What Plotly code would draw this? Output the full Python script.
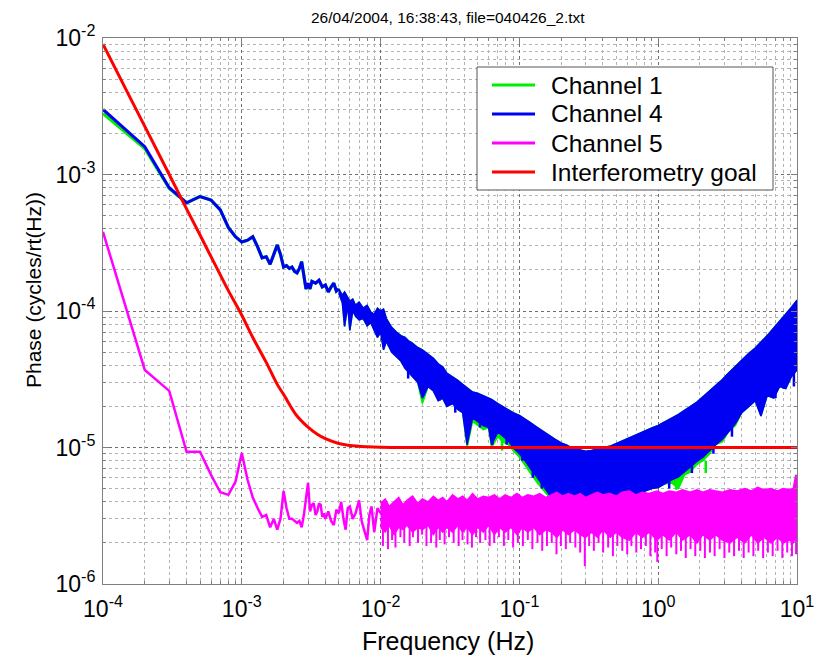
import plotly.graph_objects as go

# ---------------- data ----------------
TITLE = "26/04/2004, 16:38:43, file=040426_2.txt"
X_TITLE = "Frequency (Hz)"
Y_TITLE = "Phase (cycles/rt(Hz))"
SERIES_NAMES = ["Channel 1", "Channel 4", "Channel 5", "Interferometry goal"]

X_TICKS = [1e-4, 1e-3, 1e-2, 1e-1, 1e0, 1e1]
X_TICK_TEXT = ["10<sup>-4</sup>", "10<sup>-3</sup>", "10<sup>-2</sup>",
               "10<sup>-1</sup>", "10<sup>0</sup>", "10<sup>1</sup>"]
Y_TICKS = [1e-6, 1e-5, 1e-4, 1e-3, 1e-2]
Y_TICK_TEXT = ["10<sup>-6</sup>", "10<sup>-5</sup>", "10<sup>-4</sup>",
               "10<sup>-3</sup>", "10<sup>-2</sup>"]

# low-frequency part of channels 1 and 4 (single line)
ch_low_f = [1.0e-4, 2.0e-4, 3.0e-4, 4.0e-4, 5.0e-4, 6.0e-4, 7.0e-4, 8.0e-4, 9.0e-4,
            1.0e-3, 1.1e-3, 1.2e-3, 1.3e-3, 1.4e-3, 1.5e-3, 1.6e-3, 1.7e-3, 1.8e-3,
            1.9e-3, 2.0e-3, 2.1e-3, 2.2e-3, 2.3e-3, 2.4e-3, 2.5e-3, 2.6e-3, 2.7e-3,
            2.8e-3, 2.9e-3, 3.0e-3, 3.1e-3, 3.2e-3, 3.4e-3, 3.6e-3, 3.8e-3, 4.0e-3,
            4.2e-3, 4.4e-3, 4.6e-3, 4.8e-3, 5.0e-3]
ch4_low = [3.0e-3, 1.6e-3, 8.0e-4, 6.2e-4, 6.9e-4, 6.5e-4, 5.5e-4, 4.1e-4, 3.5e-4,
           3.2e-4, 3.3e-4, 3.5e-4, 2.95e-4, 2.45e-4, 2.5e-4, 2.2e-4, 2.6e-4, 3.05e-4,
           2.6e-4, 2.1e-4, 2.15e-4, 2.05e-4, 2.1e-4, 1.95e-4, 1.9e-4, 2.05e-4, 2.3e-4,
           1.85e-4, 1.45e-4, 1.6e-4, 1.45e-4, 1.65e-4, 1.6e-4, 1.68e-4, 1.5e-4, 1.55e-4,
           1.38e-4, 1.5e-4, 1.6e-4, 1.4e-4, 1.45e-4]
ch1_low = [2.8e-3, 1.55e-3, 7.9e-4, 6.2e-4, 6.9e-4, 6.5e-4, 5.5e-4, 4.1e-4, 3.5e-4,
           3.2e-4, 3.3e-4, 3.5e-4, 2.95e-4, 2.45e-4, 2.5e-4, 2.2e-4, 2.6e-4, 3.05e-4,
           2.6e-4, 2.1e-4, 2.15e-4, 2.05e-4, 2.1e-4, 1.95e-4, 1.9e-4, 2.05e-4, 2.3e-4,
           1.85e-4, 1.45e-4, 1.6e-4, 1.45e-4, 1.65e-4, 1.6e-4, 1.68e-4, 1.5e-4, 1.55e-4,
           1.38e-4, 1.5e-4, 1.6e-4, 1.4e-4, 1.45e-4]

# noisy part of channels 1 and 4: upper / lower envelope of the band
band_f = [5.0e-3, 5.3e-3, 5.5e-3, 5.8e-3, 6.0e-3, 6.3e-3, 6.6e-3, 7.0e-3, 7.5e-3, 8.0e-3,
          8.5e-3, 9.0e-3, 9.5e-3, 1.0e-2, 1.05e-2, 1.1e-2, 1.2e-2, 1.3e-2, 1.4e-2, 1.5e-2,
          1.6e-2, 1.7e-2, 1.85e-2, 2.0e-2, 2.2e-2, 2.4e-2, 2.6e-2, 2.8e-2, 3.0e-2, 3.3e-2,
          3.6e-2, 3.9e-2, 4.2e-2, 4.6e-2, 5.0e-2, 5.5e-2, 6.0e-2, 6.3e-2, 7.0e-2, 7.6e-2,
          8.3e-2, 9.0e-2, 0.10, 0.11, 0.12, 0.135, 0.15, 0.165, 0.18, 0.20,
          0.22, 0.24, 0.27, 0.30, 0.33, 0.37, 0.41, 0.46, 0.51, 0.57,
          0.64, 0.71, 0.80, 0.90, 1.0, 1.1, 1.25, 1.4, 1.55, 1.7,
          1.9, 2.1, 2.35, 2.6, 2.9, 3.2, 3.6, 4.0, 4.5, 5.0,
          5.5, 6.1, 6.8, 7.5, 8.3, 9.1, 10.0]
ch4_upper = [1.45e-4, 1.3e-4, 1.38e-4, 1.25e-4, 1.18e-4, 1.22e-4, 1.1e-4, 1.16e-4, 1.05e-4, 1.1e-4,
             9.8e-5, 9.5e-5, 1.05e-4, 1.0e-4, 1.03e-4, 8.8e-5, 7.6e-5, 7.0e-5, 6.6e-5, 6.4e-5,
             6.0e-5, 5.8e-5, 5.4e-5, 5.2e-5, 4.8e-5, 4.5e-5, 4.1e-5, 3.9e-5, 3.5e-5, 3.3e-5,
             3.1e-5, 2.9e-5, 2.75e-5, 2.55e-5, 2.5e-5, 2.4e-5, 2.3e-5, 2.25e-5, 2.1e-5, 2.0e-5,
             1.9e-5, 1.8e-5, 1.72e-5, 1.6e-5, 1.52e-5, 1.4e-5, 1.3e-5, 1.22e-5, 1.15e-5, 1.08e-5,
             1.04e-5, 9.9e-6, 9.6e-6, 9.4e-6, 9.5e-6, 9.7e-6, 1.0e-5, 1.03e-5, 1.08e-5, 1.14e-5,
             1.2e-5, 1.26e-5, 1.32e-5, 1.39e-5, 1.45e-5, 1.52e-5, 1.64e-5, 1.75e-5, 1.87e-5, 2.0e-5,
             2.15e-5, 2.35e-5, 2.6e-5, 2.85e-5, 3.15e-5, 3.5e-5, 3.95e-5, 4.35e-5, 4.9e-5, 5.35e-5,
             5.9e-5, 6.6e-5, 7.5e-5, 8.5e-5, 9.5e-5, 1.06e-4, 1.2e-4]
ch4_lower = [1.35e-4, 1.15e-4, 7.7e-5, 1.1e-4, 7.2e-5, 1.0e-4, 9.2e-5, 8.6e-5, 8.8e-5, 7.8e-5,
             8.2e-5, 7.2e-5, 6.4e-5, 7.0e-5, 5.2e-5, 6.0e-5, 5.0e-5, 4.6e-5, 4.3e-5, 3.8e-5,
             3.6e-5, 3.3e-5, 3.0e-5, 2.3e-5, 2.8e-5, 2.6e-5, 2.2e-5, 2.3e-5, 2.0e-5, 2.1e-5,
             1.9e-5, 1.8e-5, 1.05e-5, 1.65e-5, 1.55e-5, 1.45e-5, 1.4e-5, 1.05e-5, 1.3e-5, 1.2e-5,
             1.12e-5, 1.0e-5, 9.0e-6, 8.0e-6, 7.0e-6, 6.0e-6, 5.2e-6, 4.5e-6, 4.6e-6, 4.1e-6,
             4.5e-6, 4.2e-6, 4.0e-6, 4.4e-6, 4.2e-6, 4.3e-6, 4.1e-6, 4.4e-6, 4.3e-6, 4.5e-6,
             4.4e-6, 4.6e-6, 4.8e-6, 5.0e-6, 5.1e-6, 5.4e-6, 5.8e-6, 6.1e-6, 6.6e-6, 7.2e-6,
             7.9e-6, 8.5e-6, 9.5e-6, 1.05e-5, 1.15e-5, 1.3e-5, 1.5e-5, 1.8e-5, 2.0e-5, 2.2e-5,
             1.7e-5, 2.4e-5, 2.3e-5, 2.8e-5, 2.7e-5, 3.3e-5, 3.7e-5]
ch1_upper = ch4_upper
ch1_lower = [1.35e-4, 1.15e-4, 7.7e-5, 1.1e-4, 7.2e-5, 1.0e-4, 9.2e-5, 8.6e-5, 8.8e-5, 7.8e-5,
             8.2e-5, 7.2e-5, 6.4e-5, 7.0e-5, 5.2e-5, 6.0e-5, 5.0e-5, 4.6e-5, 4.3e-5, 3.8e-5,
             3.6e-5, 3.3e-5, 3.0e-5, 2.1e-5, 2.8e-5, 2.6e-5, 2.2e-5, 2.3e-5, 2.0e-5, 2.1e-5,
             1.9e-5, 1.8e-5, 1.0e-5, 1.55e-5, 1.45e-5, 1.35e-5, 1.4e-5, 1.0e-5, 1.2e-5, 1.1e-5,
             1.05e-5, 9.5e-6, 8.5e-6, 7.4e-6, 6.5e-6, 5.5e-6, 4.8e-6, 4.3e-6, 4.4e-6, 4.0e-6,
             4.5e-6, 4.2e-6, 4.0e-6, 4.4e-6, 4.2e-6, 4.3e-6, 4.1e-6, 4.4e-6, 4.3e-6, 4.5e-6,
             4.4e-6, 4.6e-6, 4.8e-6, 5.0e-6, 5.1e-6, 5.4e-6, 5.5e-6, 5.0e-6, 6.3e-6, 6.6e-6,
             7.5e-6, 8.0e-6, 9.0e-6, 1.05e-5, 1.1e-5, 1.3e-5, 1.45e-5, 1.8e-5, 2.0e-5, 2.2e-5,
             1.7e-5, 2.4e-5, 2.3e-5, 2.8e-5, 2.7e-5, 3.3e-5, 3.7e-5]

# single downward noise spikes below the band: frequency, bottom, top
ch4_spike_f = [0.0115, 0.0158, 0.0205, 0.0265, 0.0345, 0.052, 0.064, 0.081, 0.105, 0.125,
               0.145, 1.2, 1.75, 2.5, 3.4, 7.0, 8.0, 9.5]
ch4_spike_lo = [5.5e-5, 3.2e-5, 2.4e-5, 2.2e-5, 1.8e-5, 1.4e-5, 1.05e-5, 1.05e-5, 8.0e-6, 6.0e-6,
                5.0e-6, 5.0e-6, 6.5e-6, 9.0e-6, 1.2e-5, 2.3e-5, 2.7e-5, 2.8e-5]
ch4_spike_hi = [7.0e-5, 4.2e-5, 3.3e-5, 2.8e-5, 2.2e-5, 1.6e-5, 1.5e-5, 1.2e-5, 9.5e-6, 7.5e-6,
                6.0e-6, 6.0e-6, 7.5e-6, 1.05e-5, 1.45e-5, 2.8e-5, 3.2e-5, 3.6e-5]
ch1_spike_f = [0.075, 0.21, 1.35, 2.2]
ch1_spike_lo = [9.5e-6, 3.6e-6, 4.9e-6, 6.5e-6]
ch1_spike_hi = [1.2e-5, 4.4e-6, 6.0e-6, 8.0e-6]

# channel 5: low-frequency line, then noisy band
ch5_low_f = [1.0e-4, 2.0e-4, 3.0e-4, 4.0e-4, 5.0e-4, 6.0e-4, 7.0e-4, 8.0e-4, 9.0e-4, 1.0e-3,
             1.1e-3, 1.2e-3, 1.3e-3, 1.4e-3, 1.5e-3, 1.6e-3, 1.7e-3, 1.8e-3, 1.9e-3, 2.0e-3,
             2.1e-3, 2.2e-3, 2.3e-3, 2.4e-3, 2.5e-3, 2.6e-3, 2.7e-3, 2.8e-3, 2.9e-3, 3.0e-3,
             3.1e-3, 3.2e-3, 3.3e-3, 3.4e-3, 3.5e-3, 3.6e-3, 3.7e-3, 3.8e-3, 3.9e-3, 4.0e-3,
             4.2e-3, 4.4e-3, 4.6e-3, 4.8e-3, 5.0e-3, 5.2e-3, 5.4e-3, 5.6e-3, 5.8e-3, 6.0e-3,
             6.3e-3, 6.6e-3, 7.0e-3, 7.3e-3, 7.6e-3, 8.0e-3, 8.3e-3, 8.6e-3, 9.0e-3, 9.5e-3,
             1.0e-2]
ch5_low = [3.8e-4, 3.7e-5, 2.6e-5, 9.3e-6, 9.3e-6, 6.3e-6, 4.7e-6, 4.5e-6, 5.6e-6, 9.1e-6,
           5.8e-6, 4.3e-6, 3.6e-6, 3.1e-6, 3.2e-6, 2.6e-6, 3.0e-6, 2.5e-6, 3.0e-6, 4.8e-6,
           3.6e-6, 3.0e-6, 3.0e-6, 2.9e-6, 2.8e-6, 2.9e-6, 2.6e-6, 3.2e-6, 4.4e-6, 5.5e-6,
           3.4e-6, 3.8e-6, 3.9e-6, 3.2e-6, 3.4e-6, 3.9e-6, 3.8e-6, 3.1e-6, 3.3e-6, 3.0e-6,
           3.4e-6, 2.9e-6, 2.7e-6, 3.5e-6, 3.3e-6, 4.0e-6, 3.0e-6, 2.5e-6, 3.6e-6, 3.7e-6,
           3.0e-6, 3.3e-6, 4.1e-6, 2.9e-6, 2.5e-6, 2.1e-6, 3.2e-6, 3.7e-6, 2.4e-6, 3.6e-6,
           3.3e-6]
ch5_band_f = [1.0e-2, 1.08e-2, 1.15e-2, 1.25e-2, 1.35e-2, 1.45e-2, 1.55e-2, 1.7e-2, 1.85e-2, 2.0e-2,
              2.2e-2, 2.4e-2, 2.6e-2, 2.8e-2, 3.0e-2, 3.3e-2, 3.6e-2, 3.9e-2, 4.2e-2, 4.6e-2,
              5.0e-2, 5.5e-2, 6.0e-2, 6.6e-2, 7.2e-2, 7.9e-2, 8.7e-2, 9.6e-2, 0.105, 0.115,
              0.127, 0.14, 0.155, 0.17, 0.186, 0.205, 0.225, 0.25, 0.275, 0.30,
              0.33, 0.365, 0.40, 0.45, 0.50, 0.55, 0.62, 0.69, 0.77, 0.86,
              0.98, 1.08, 1.2, 1.35, 1.5, 1.7, 1.9, 2.1, 2.35, 2.6,
              2.9, 3.3, 3.7, 4.2, 4.7, 5.2, 5.8, 6.5, 7.2, 8.0,
              8.8, 9.4, 9.8, 10.0]
ch5_upper = [3.9e-6, 4.2e-6, 3.7e-6, 4.0e-6, 4.3e-6, 3.8e-6, 4.1e-6, 4.4e-6, 3.9e-6, 4.2e-6,
             4.0e-6, 4.4e-6, 4.1e-6, 4.3e-6, 4.0e-6, 4.5e-6, 4.2e-6, 4.4e-6, 4.1e-6, 4.6e-6,
             4.2e-6, 4.4e-6, 4.3e-6, 4.5e-6, 4.2e-6, 4.5e-6, 4.3e-6, 4.6e-6, 4.3e-6, 4.5e-6,
             4.4e-6, 4.6e-6, 4.3e-6, 4.5e-6, 4.7e-6, 4.4e-6, 4.6e-6, 4.4e-6, 4.6e-6, 4.3e-6,
             4.5e-6, 4.7e-6, 4.5e-6, 4.6e-6, 4.4e-6, 4.7e-6, 4.8e-6, 4.5e-6, 4.7e-6, 4.6e-6,
             4.8e-6, 4.6e-6, 4.8e-6, 4.7e-6, 4.9e-6, 4.7e-6, 4.9e-6, 4.7e-6, 4.9e-6, 4.8e-6,
             4.7e-6, 4.9e-6, 4.8e-6, 5.0e-6, 4.8e-6, 5.1e-6, 4.9e-6, 5.0e-6, 4.8e-6, 5.0e-6,
             4.9e-6, 5.0e-6, 6.3e-6, 6.0e-6]
ch5_lower = [2.6e-6, 2.4e-6, 2.7e-6, 2.3e-6, 2.6e-6, 2.5e-6, 2.7e-6, 2.4e-6, 2.6e-6, 2.5e-6,
             2.7e-6, 2.3e-6, 2.6e-6, 2.4e-6, 2.6e-6, 2.4e-6, 2.7e-6, 2.4e-6, 2.6e-6, 2.3e-6,
             2.6e-6, 2.4e-6, 2.7e-6, 2.3e-6, 2.6e-6, 2.4e-6, 2.6e-6, 2.3e-6, 2.6e-6, 2.4e-6,
             2.6e-6, 2.3e-6, 2.5e-6, 2.4e-6, 2.2e-6, 2.5e-6, 2.3e-6, 2.5e-6, 2.3e-6, 2.2e-6,
             2.4e-6, 2.2e-6, 2.5e-6, 2.2e-6, 2.4e-6, 2.2e-6, 2.1e-6, 2.4e-6, 2.2e-6, 2.4e-6,
             2.1e-6, 2.3e-6, 2.1e-6, 2.4e-6, 2.1e-6, 2.3e-6, 2.0e-6, 2.3e-6, 2.1e-6, 2.3e-6,
             2.1e-6, 2.0e-6, 2.2e-6, 2.0e-6, 2.3e-6, 2.0e-6, 2.2e-6, 2.0e-6, 2.2e-6, 2.0e-6,
             2.1e-6, 2.0e-6, 2.2e-6, 2.4e-6]
ch5_spike_f = [0.0104, 0.0113, 0.0121, 0.0128, 0.0139, 0.0148, 0.0162, 0.0171, 0.0186, 0.0199,
               0.0214, 0.0231, 0.0252, 0.0267, 0.0289, 0.0311, 0.0336, 0.0365, 0.0389, 0.0423,
               0.0455, 0.0487, 0.0521, 0.0569, 0.0611, 0.0658, 0.0712, 0.0773, 0.0832, 0.0901,
               0.0975, 0.106, 0.115, 0.124, 0.135, 0.146, 0.158, 0.171, 0.185, 0.199,
               0.216, 0.232, 0.253, 0.274, 0.296, 0.318, 0.344, 0.372, 0.401, 0.436,
               0.472, 0.508, 0.551, 0.598, 0.641, 0.695, 0.752, 0.815, 0.878, 0.951,
               0.985, 1.06, 1.15, 1.24, 1.35, 1.46, 1.58, 1.71, 1.85, 2.01,
               2.17, 2.36, 2.55, 2.77, 3.0, 3.25, 3.52, 3.82, 4.13, 4.48,
               4.85, 5.25, 5.7, 6.17, 6.68, 7.24, 7.84, 8.5, 9.2, 9.85]
ch5_spike_lo = [1.9e-6, 1.8e-6, 2.1e-6, 1.85e-6, 2.2e-6, 2.0e-6, 1.9e-6, 2.2e-6, 2.0e-6, 2.3e-6,
                1.9e-6, 2.0e-6, 1.85e-6, 2.1e-6, 1.95e-6, 2.2e-6, 2.0e-6, 1.9e-6, 2.1e-6, 1.95e-6,
                1.85e-6, 2.2e-6, 2.0e-6, 2.1e-6, 1.9e-6, 2.0e-6, 2.2e-6, 1.9e-6, 2.1e-6, 1.85e-6,
                2.0e-6, 1.9e-6, 2.1e-6, 1.8e-6, 2.0e-6, 1.75e-6, 1.9e-6, 2.0e-6, 1.65e-6, 1.9e-6,
                1.8e-6, 2.0e-6, 1.85e-6, 1.7e-6, 1.35e-6, 1.9e-6, 1.75e-6, 2.0e-6, 1.7e-6, 1.85e-6,
                1.6e-6, 1.9e-6, 1.75e-6, 1.65e-6, 1.9e-6, 1.7e-6, 1.8e-6, 1.9e-6, 1.6e-6, 1.7e-6,
                1.45e-6, 1.8e-6, 1.6e-6, 1.85e-6, 1.65e-6, 1.75e-6, 1.55e-6, 1.8e-6, 1.6e-6, 1.75e-6,
                1.55e-6, 1.7e-6, 1.6e-6, 1.8e-6, 1.55e-6, 1.7e-6, 1.6e-6, 1.75e-6, 1.55e-6, 1.7e-6,
                1.6e-6, 1.75e-6, 1.55e-6, 1.7e-6, 1.6e-6, 1.75e-6, 1.55e-6, 1.7e-6, 1.6e-6, 1.65e-6]
CH5_SPIKE_TOP = 3.0e-6

# interferometry goal
goal_f = [1.0e-4, 1.5e-4, 2.0e-4, 3.0e-4, 4.0e-4, 5.0e-4, 6.0e-4, 7.0e-4, 8.0e-4, 1.0e-3,
          1.2e-3, 1.5e-3, 1.8e-3, 2.0e-3, 2.5e-3, 3.0e-3, 3.5e-3, 4.0e-3, 5.0e-3, 6.0e-3,
          8.0e-3, 1.0e-2, 2.0e-2, 10.0]
goal = [9.0e-3, 4.0e-3, 2.25e-3, 1.0e-3, 5.6e-4, 3.6e-4, 2.5e-4, 1.84e-4, 1.41e-4, 9.3e-5,
        6.4e-5, 4.2e-5, 2.9e-5, 2.45e-5, 1.7e-5, 1.41e-5, 1.25e-5, 1.16e-5, 1.07e-5, 1.035e-5,
        1.013e-5, 1.005e-5, 1.0e-5, 1.0e-5]

COLORS = ["#00ee00", "#0000f2", "#ff00ff", "#ff0000"]

# ---------------- geometry (the page adds an 8px body margin) ----------------
FIG_W, FIG_H = 818, 647
ML, MR, MT, MB = 95, 29, 30, 71
PW, PH = FIG_W - ML - MR, FIG_H - MT - MB


def px_x(fx):  # figure px -> paper x
    return (fx - ML) / PW


def px_y(fy):  # figure px -> paper y
    return 1 - (fy - MT) / PH


FONT = "Liberation Sans, Arial, sans-serif"

fig = go.Figure()


def add_band(color, bf, up, lo):
    fig.add_trace(go.Scatter(x=list(bf) + list(bf)[::-1], y=list(up) + list(lo)[::-1],
                             mode="lines", fill="toself", fillcolor=color,
                             line=dict(color=color, width=1.5), showlegend=False,
                             hoverinfo="skip"))


def add_spikes(color, sf, lo, hi, width=2):
    xs, ys = [], []
    for f, a, b in zip(sf, lo, hi):
        xs += [f, f, None]
        ys += [a, b, None]
    fig.add_trace(go.Scatter(x=xs, y=ys, mode="lines", showlegend=False, hoverinfo="skip",
                             line=dict(color=color, width=width), connectgaps=False))


def add_line(color, f, v, width):
    fig.add_trace(go.Scatter(x=f, y=v, mode="lines", showlegend=False,
                             line=dict(color=color, width=width), hoverinfo="skip"))


# Channel 1
add_line(COLORS[0], ch_low_f, ch1_low, 3.2)
add_band(COLORS[0], band_f, ch1_upper, ch1_lower)
add_spikes(COLORS[0], ch1_spike_f, ch1_spike_lo, ch1_spike_hi, 2.5)
# Channel 4
add_line(COLORS[1], ch_low_f, ch4_low, 3)
add_band(COLORS[1], band_f, ch4_upper, ch4_lower)
add_spikes(COLORS[1], ch4_spike_f, ch4_spike_lo, ch4_spike_hi, 2.5)
# Channel 5
add_line(COLORS[2], ch5_low_f, ch5_low, 2.5)
add_band(COLORS[2], ch5_band_f, ch5_upper, ch5_lower)
add_spikes(COLORS[2], ch5_spike_f, ch5_spike_lo, [CH5_SPIKE_TOP] * len(ch5_spike_f), 2)
# Interferometry goal
fig.add_trace(go.Scatter(x=goal_f, y=goal, mode="lines", line_shape="spline", showlegend=False,
                         line=dict(color=COLORS[3], width=3), hoverinfo="skip"))

minor_x = [m * 10.0 ** e for e in range(-4, 1) for m in range(2, 10)]
minor_y = [m * 10.0 ** e for e in range(-6, -2) for m in range(2, 10)]

axis_common = dict(
    type="log", showline=True, linecolor="#7f7f7f", linewidth=1, mirror="ticks",
    ticks="inside", ticklen=6, tickcolor="#7f7f7f",
    showgrid=True, gridcolor="#6e6e6e", griddash="dot", gridwidth=1,
    tickfont=dict(family=FONT, size=23, color="black"),
    zeroline=False,
)
minor_common = dict(tickmode="array", ticks="inside", ticklen=3, tickcolor="#7f7f7f",
                    showgrid=True, gridcolor="#b3b3b3", griddash="dot", gridwidth=1)

fig.update_xaxes(**axis_common, range=[-4, 1], tickmode="array", tickvals=X_TICKS,
                 ticktext=X_TICK_TEXT, ticklabelstandoff=4,
                 minor=dict(tickvals=minor_x, **minor_common))
fig.update_yaxes(**axis_common, range=[-6, -2], tickmode="array", tickvals=Y_TICKS,
                 ticktext=Y_TICK_TEXT, ticklabelstandoff=2,
                 minor=dict(tickvals=minor_y, **minor_common))

# legend box drawn in the axes' upper right (MATLAB style)
LEG_BOX = (469, 59, 765, 182)        # figure px: left, top, right, bottom
LEG_ROWS = [77, 106, 135, 164]       # figure px: row centres
LEG_LINE = (484, 527)                # figure px: sample line x-extent
LEG_TEXT_X = 541

shapes = [dict(type="rect", xref="paper", yref="paper",
               x0=px_x(LEG_BOX[0]), x1=px_x(LEG_BOX[2]),
               y0=px_y(LEG_BOX[3]), y1=px_y(LEG_BOX[1]),
               line=dict(color="#555555", width=1), fillcolor="white", layer="above")]
annotations = []
for name, color, ry in zip(SERIES_NAMES, COLORS, LEG_ROWS):
    shapes.append(dict(type="line", xref="paper", yref="paper",
                       x0=px_x(LEG_LINE[0]), x1=px_x(LEG_LINE[1]),
                       y0=px_y(ry), y1=px_y(ry), layer="above",
                       line=dict(color=color, width=3)))
    annotations.append(dict(text=name, xref="paper", yref="paper", x=px_x(LEG_TEXT_X),
                            y=px_y(ry), xanchor="left", yanchor="middle", showarrow=False,
                            font=dict(size=24.5, family=FONT, color="black")))

annotations += [
    dict(text=X_TITLE, xref="paper", yref="paper", x=px_x(440), y=px_y(633),
         showarrow=False, xanchor="center", yanchor="middle",
         font=dict(size=25, family=FONT, color="black")),
    dict(text=Y_TITLE, xref="paper", yref="paper", x=px_x(25), y=px_y(282),
         showarrow=False, textangle=-90, xanchor="center", yanchor="middle",
         font=dict(size=21, family=FONT, color="black")),
    dict(text=TITLE, xref="paper", yref="paper", x=px_x(439.5), y=px_y(0),
         showarrow=False, xanchor="center", yanchor="top", borderpad=0,
         font=dict(size=15.5, family=FONT, color="black")),
]

fig.update_layout(
    width=FIG_W, height=FIG_H,
    margin=dict(l=ML, r=MR, t=MT, b=MB),
    paper_bgcolor="white", plot_bgcolor="white",
    font=dict(family=FONT, color="black"),
    showlegend=False,
    shapes=shapes,
    annotations=annotations,
)

fig.write_html("out.html")
